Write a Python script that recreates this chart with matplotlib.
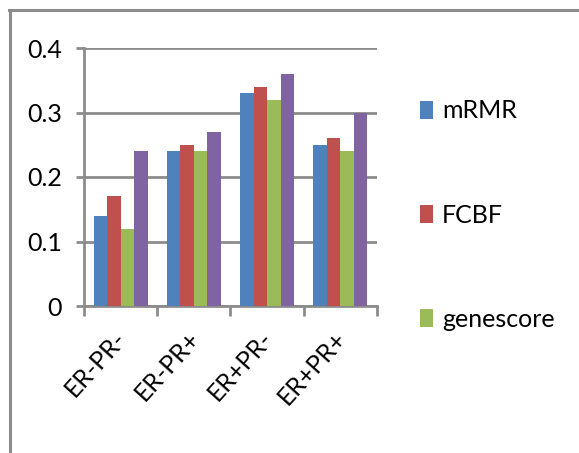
import numpy as np
import matplotlib.pyplot as plt
import matplotlib.transforms as mtransforms
from matplotlib.lines import Line2D

plt.rcParams['font.family'] = ['Lato', 'DejaVu Sans']

categories = ['ER-PR-', 'ER-PR+', 'ER+PR-', 'ER+PR+']
series_names = ['mRMR', 'FCBF', 'genescore', 'series4']
mrmr = [0.14, 0.24, 0.33, 0.25]
fcbf = [0.17, 0.25, 0.34, 0.26]
genescore = [0.12, 0.24, 0.32, 0.24]
series4 = [0.24, 0.27, 0.36, 0.30]
yticks = [0, 0.1, 0.2, 0.3, 0.4]
ytick_labels = ['0', '0.1', '0.2', '0.3', '0.4']

colors = ['#4F81BD', '#C0504D', '#9BBB59', '#8064A2']
grid_c = '#8C8C8C'

W, H = 579, 453
fig = plt.figure(figsize=(W / 100, H / 100), dpi=100)
ax = fig.add_axes([84 / W, 1 - 306 / H, (377 - 84) / W, (306 - 48) / H])

x = np.arange(len(categories))
w = 0.185
bars = []
for i, vals in enumerate([mrmr, fcbf, genescore, series4]):
    b = ax.bar(x + (i - 1.5) * w, vals, w, color=colors[i], label=series_names[i], zorder=3)
    bars.append(b)

ax.set_xlim(-0.5, 3.5)
ax.set_ylim(0, 0.4)
ax.set_yticks(yticks)
ax.set_yticklabels(ytick_labels, fontsize=18)
ax.yaxis.grid(True, color=grid_c, lw=2, zorder=1)
ax.set_axisbelow(True)

for s in ['top', 'right']:
    ax.spines[s].set_visible(False)
for s in ['left', 'bottom']:
    ax.spines[s].set_color(grid_c)
    ax.spines[s].set_linewidth(2)
ax.spines['left'].set_zorder(4)

ax.tick_params(axis='y', length=6, width=2, color=grid_c, pad=10)
ax.set_xticks(x)
ax.set_xticklabels(categories, rotation=48, ha='right', va='top', fontsize=18,
                   rotation_mode='default')
ax.tick_params(axis='x', which='major', length=0, pad=15)
# nudge the rotated labels right so they end near the category centre
shift = mtransforms.ScaledTranslation(10 / 100, 0, fig.dpi_scale_trans)
for lbl in ax.get_xticklabels():
    lbl.set_transform(lbl.get_transform() + shift)
ax.set_xticks(np.arange(-0.5, 4.0, 1.0), minor=True)
ax.tick_params(axis='x', which='minor', length=7, width=2, color=grid_c, direction='out')

fig.legend(handles=bars[:3], labels=series_names[:3], loc='upper left',
           bbox_to_anchor=(397 / W, 1 - 77 / H), frameon=False, fontsize=18,
           handlelength=0.55, handleheight=0.75, handletextpad=0.35, labelspacing=3.25)

fig.add_artist(Line2D([9 / W, 1], [1 - 10 / H, 1 - 10 / H], color=grid_c, lw=2.2,
                      transform=fig.transFigure))
fig.add_artist(Line2D([10 / W, 10 / W], [0, 1 - 10 / H], color=grid_c, lw=2.2,
                      transform=fig.transFigure))

fig.savefig('out.png', dpi=100)
